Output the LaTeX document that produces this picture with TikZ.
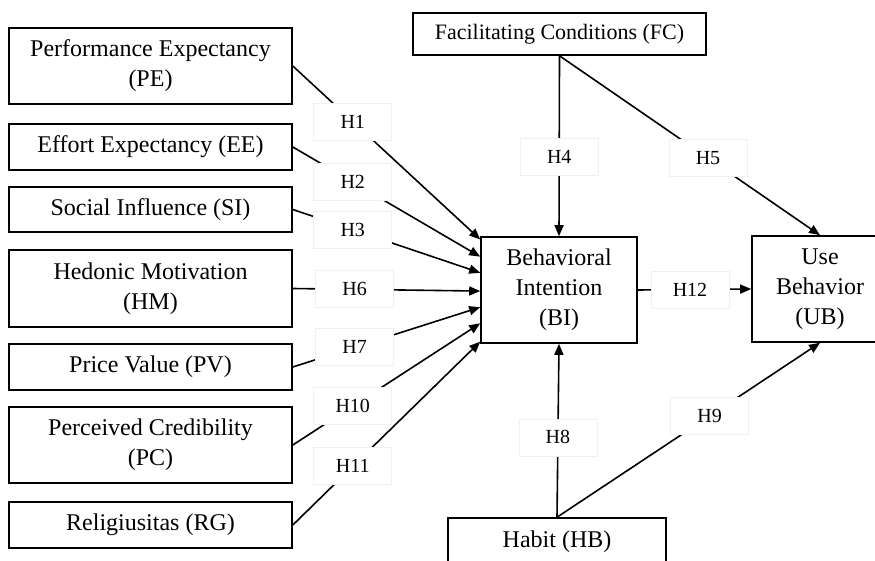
\documentclass[tikz,border=0pt]{standalone}
\usepackage{fontspec}
\setmainfont{Liberation Serif}
\usetikzlibrary{arrows.meta,calc}

\begin{document}
\begin{tikzpicture}
[x=1pt,y=-1pt,
  boxDecorate/.style={shape=rectangle,draw,line width=1.6pt,align=center,inner sep=2pt,font=\fontsize{24}{30}\selectfont},%
  hypDecorate/.style={shape=rectangle,draw=black!6,line width=0.8pt,fill=white,minimum width=78pt,minimum height=37pt,font=\fontsize{20}{24}\selectfont},%
  lineDecorate/.style={-{Triangle[length=11pt,width=9pt]},line width=1.6pt}]
\useasboundingbox (0,0) rectangle (875,561);
%% constructs on the left
\foreach \nodename/\y/\h/\txt in {
  pe/66/76/{Performance Expectancy\\(PE)}, ee/147/46/{Effort Expectancy (EE)},
  si/209.5/45/{Social Influence (SI)}, hm/288.5/77/{Hedonic Motivation\\(HM)},
  pv/367/46/{Price Value (PV)}, pc/445/76/{Perceived Credibility\\(PC)},
  rg/525/46/{Religiusitas (RG)}}
{
  \node (\nodename) at (150.5,\y) [boxDecorate,minimum width=283pt,minimum height=\h pt] {\txt};
}
%% constructs on the right
\node (fc) at (559.5,34) [boxDecorate,minimum width=293pt,minimum height=42pt,font=\fontsize{22}{28}\selectfont] {Facilitating Conditions (FC)};
\node (bi) at (559,290) [boxDecorate,minimum width=156pt,minimum height=106pt] {Behavioral\\Intention\\(BI)};
\node (ub) at (820,289) [boxDecorate,minimum width=136pt,minimum height=106pt] {Use\\Behavior\\(UB)};
\node (hb) at (557,542) [boxDecorate,minimum width=218pt,minimum height=48pt] {Habit (HB)};
%% arrow ends on the left side of BI
\foreach \i/\f in {1/0.03, 2/0.19, 3/0.34, 6/0.51, 7/0.66, 10/0.81, 11/0.98}
{
  \coordinate (bi\i) at ($(bi.north west)!\f!(bi.south west)$);
}
%% hypotheses
\path
\foreach \startnode/\endnode/\p/\hyp in {
  pe.east/bi1/0.32/H1, ee.east/bi2/0.32/H2, si.east/bi3/0.32/H3,
  hm.east/bi6/0.33/H6, pv.east/bi7/0.33/H7, pc.east/bi10/0.32/H10,
  rg.east/bi11/0.32/H11, fc.south/bi.north/0.56/H4, fc.south/ub.north/0.57/H5,
  hb.north/bi.south/0.46/H8, hb.north/ub.south/0.58/H9, bi.east/ub.west/0.46/H12}
{
  (\startnode) edge[lineDecorate] node[pos=\p,hypDecorate] {\hyp} (\endnode)
};
\end{tikzpicture}
\end{document}
